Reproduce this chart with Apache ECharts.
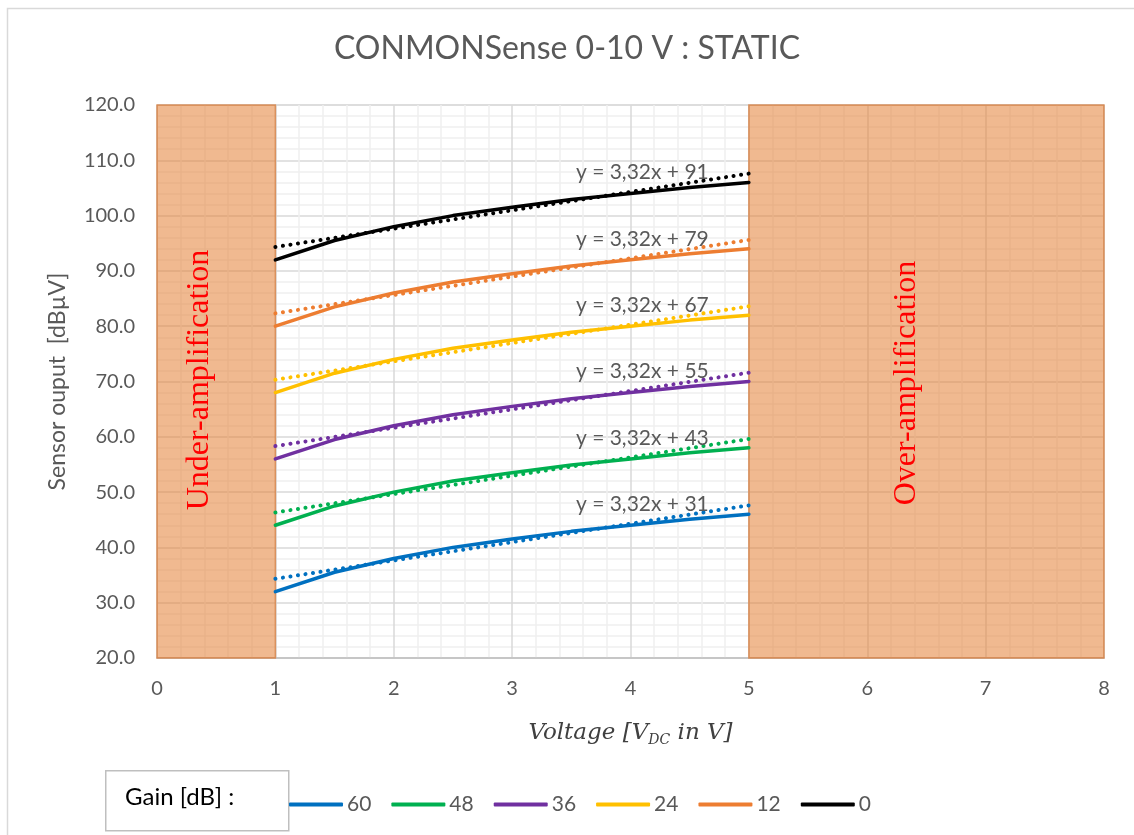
<!DOCTYPE html>
<html>
<head>
    <meta charset="utf-8">
    <title>CONMONSense 0-10 V : STATIC</title>
    <script src="https://cdn.jsdelivr.net/npm/echarts@6/dist/echarts.min.js"></script>
    <style>
        html, body { margin: 0; padding: 0; background: #fff; }
        #chart1 { width: 1134px; height: 835px; }
    </style>
</head>
<body>
<div id="chart1"></div>
<script type="text/javascript">
    // measured voltages (V DC)
    var voltages = [1, 1.5, 2, 2.5, 3, 3.5, 4, 4.5, 5];
    // sensor output per gain setting [dBuV]
    var gainNames = ['60', '48', '36', '24', '12', '0'];
    var gain60 = [32, 35.5, 38, 40, 41.5, 42.9, 44, 45.1, 46];
    var gain48 = [44, 47.5, 50, 52, 53.5, 54.9, 56, 57.1, 58];
    var gain36 = [56, 59.5, 62, 64, 65.5, 66.9, 68, 69.1, 70];
    var gain24 = [68, 71.5, 74, 76, 77.5, 78.9, 80, 81.1, 82];
    var gain12 = [80, 83.5, 86, 88, 89.5, 90.9, 92, 93.1, 94];
    var gain0 = [92, 95.5, 98, 100, 101.5, 102.9, 104, 105.1, 106];
    // linear trendlines y = a*x + b
    var trendSlope = 3.32;
    var trendIntercepts = [31, 43, 55, 67, 79, 91];
    var trendRange = [1, 5];
    // shaded regions
    var underRange = [0, 1];
    var overRange = [5, 8];

    var gainValues = [gain60, gain48, gain36, gain24, gain12, gain0];
    var colors = ['#0070C0', '#00B050', '#7030A0', '#FFC000', '#ED7D31', '#000000'];

    var myChart = echarts.init(document.getElementById('chart1'));
    var font = 'Lato, "Open Sans", sans-serif';

    var series = [];
    gainValues.forEach(function (vals, i) {
        series.push({
            name: gainNames[i],
            type: 'line',
            data: voltages.map(function (v, j) { return [v, vals[j]]; }),
            showSymbol: false,
            symbol: 'none',
            lineStyle: { color: colors[i], width: 3.5, cap: 'round' },
            itemStyle: { color: colors[i] },
            z: 3
        });
    });
    trendIntercepts.forEach(function (b, i) {
        var lx = 4.1;
        series.push({
            name: 'trend' + gainNames[i],
            type: 'line',
            data: trendRange.map(function (x) { return [x, trendSlope * x + b]; }),
            showSymbol: false,
            symbol: 'none',
            lineStyle: { color: colors[i], width: 4, type: [0.1, 7.5], cap: 'round' },
            z: 4,
            markPoint: {
                symbol: 'circle',
                symbolSize: 0,
                data: [{ coord: [lx, trendSlope * lx + b] }],
                label: {
                    show: true,
                    position: 'top',
                    distance: 7,
                    formatter: 'y = 3,32x + ' + b,
                    color: '#595959',
                    fontSize: 21,
                    fontFamily: font
                }
            }
        });
    });
    // shaded zones
    series.push({
        name: 'zones',
        type: 'line',
        data: [],
        markArea: {
            silent: true,
            itemStyle: {
                color: 'rgba(228,127,52,0.55)',
                borderColor: 'rgba(215,130,70,0.8)',
                borderWidth: 1.5
            },
            data: [
                [{ xAxis: underRange[0] }, { xAxis: underRange[1] }],
                [{ xAxis: overRange[0] }, { xAxis: overRange[1] }]
            ]
        },
        z: 5
    });

    var option = {
        backgroundColor: '#fff',
        animation: false,
        title: {
            text: 'CONMONSense 0-10 V : STATIC',
            left: 'center',
            top: 28,
            textStyle: { color: '#595959', fontSize: 32, fontWeight: 'normal', fontFamily: font }
        },
        grid: {
            left: 157, right: 30, top: 105, bottom: 177,
            show: true, borderColor: '#d9d9d9', borderWidth: 1
        },
        legend: {
            data: gainNames,
            left: 284,
            top: 789,
            itemWidth: 54,
            itemHeight: 4,
            itemGap: 20,
            icon: 'roundRect',
            textStyle: { color: '#595959', fontSize: 21, fontFamily: font, padding: [0, 0, 0, -1] }
        },
        xAxis: {
            type: 'value',
            min: 0, max: 8, interval: 1,
            axisLine: { show: true, lineStyle: { color: '#bfbfbf', width: 1.5 } },
            axisTick: { show: false },
            axisLabel: { color: '#595959', fontSize: 20, fontFamily: font, margin: 21 },
            splitLine: { show: true, lineStyle: { color: '#d9d9d9', width: 1.5 } },
            minorTick: { show: false, splitNumber: 5 },
            minorSplitLine: { show: true, lineStyle: { color: '#efefef', width: 1.5 } },
            name: '{a|Voltage [}{a|V}{s|DC}{a| in V]}',
            nameLocation: 'middle',
            nameGap: 62,
            nameTextStyle: {
                rich: {
                    a: { fontFamily: '"DejaVu Serif", serif', fontStyle: 'italic', fontSize: 23, color: '#404040' },
                    s: { fontFamily: '"DejaVu Serif", serif', fontStyle: 'italic', fontSize: 14, color: '#404040', padding: [13, 0, 0, 0] }
                }
            }
        },
        yAxis: {
            type: 'value',
            min: 20, max: 120, interval: 10,
            axisLine: { show: false },
            axisTick: { show: false },
            axisLabel: {
                color: '#595959', fontSize: 20, fontFamily: font, margin: 22,
                formatter: function (v) { return v.toFixed(1); }
            },
            splitLine: { show: true, lineStyle: { color: '#d9d9d9', width: 1.5 } },
            minorTick: { show: false, splitNumber: 5 },
            minorSplitLine: { show: true, lineStyle: { color: '#efefef', width: 1.5 } },
            name: 'Sensor ouput  [dBµV]',
            nameLocation: 'middle',
            nameGap: 88,
            nameTextStyle: { color: '#595959', fontSize: 23, fontFamily: font }
        },
        graphic: [
            {
                type: 'rect', left: 5, top: 6, silent: true,
                shape: { width: 1140, height: 840 },
                style: { fill: 'none', stroke: '#d9d9d9', lineWidth: 1.5 }
            },
            {
                type: 'rect', left: 105, top: 770, silent: true,
                shape: { width: 183, height: 60 },
                style: { fill: '#fff', stroke: '#bfbfbf', lineWidth: 1.5 }
            },
            {
                type: 'text', left: 125, top: 785, silent: true,
                style: { text: 'Gain [dB] :', fill: '#000', fontSize: 24, fontFamily: font }
            },
            {
                type: 'text', x: 200, y: 380, rotation: Math.PI / 2, silent: true, z: 10,
                style: {
                    text: 'Under-amplification', fill: '#ff0000', fontSize: 32,
                    fontFamily: '"Liberation Serif", "DejaVu Serif", serif',
                    align: 'center', verticalAlign: 'middle'
                }
            },
            {
                type: 'text', x: 907, y: 383, rotation: Math.PI / 2, silent: true, z: 10,
                style: {
                    text: 'Over-amplification', fill: '#ff0000', fontSize: 32,
                    fontFamily: '"Liberation Serif", "DejaVu Serif", serif',
                    align: 'center', verticalAlign: 'middle'
                }
            }
        ],
        series: series
    };
    myChart.setOption(option);
</script>
</body>
</html>
